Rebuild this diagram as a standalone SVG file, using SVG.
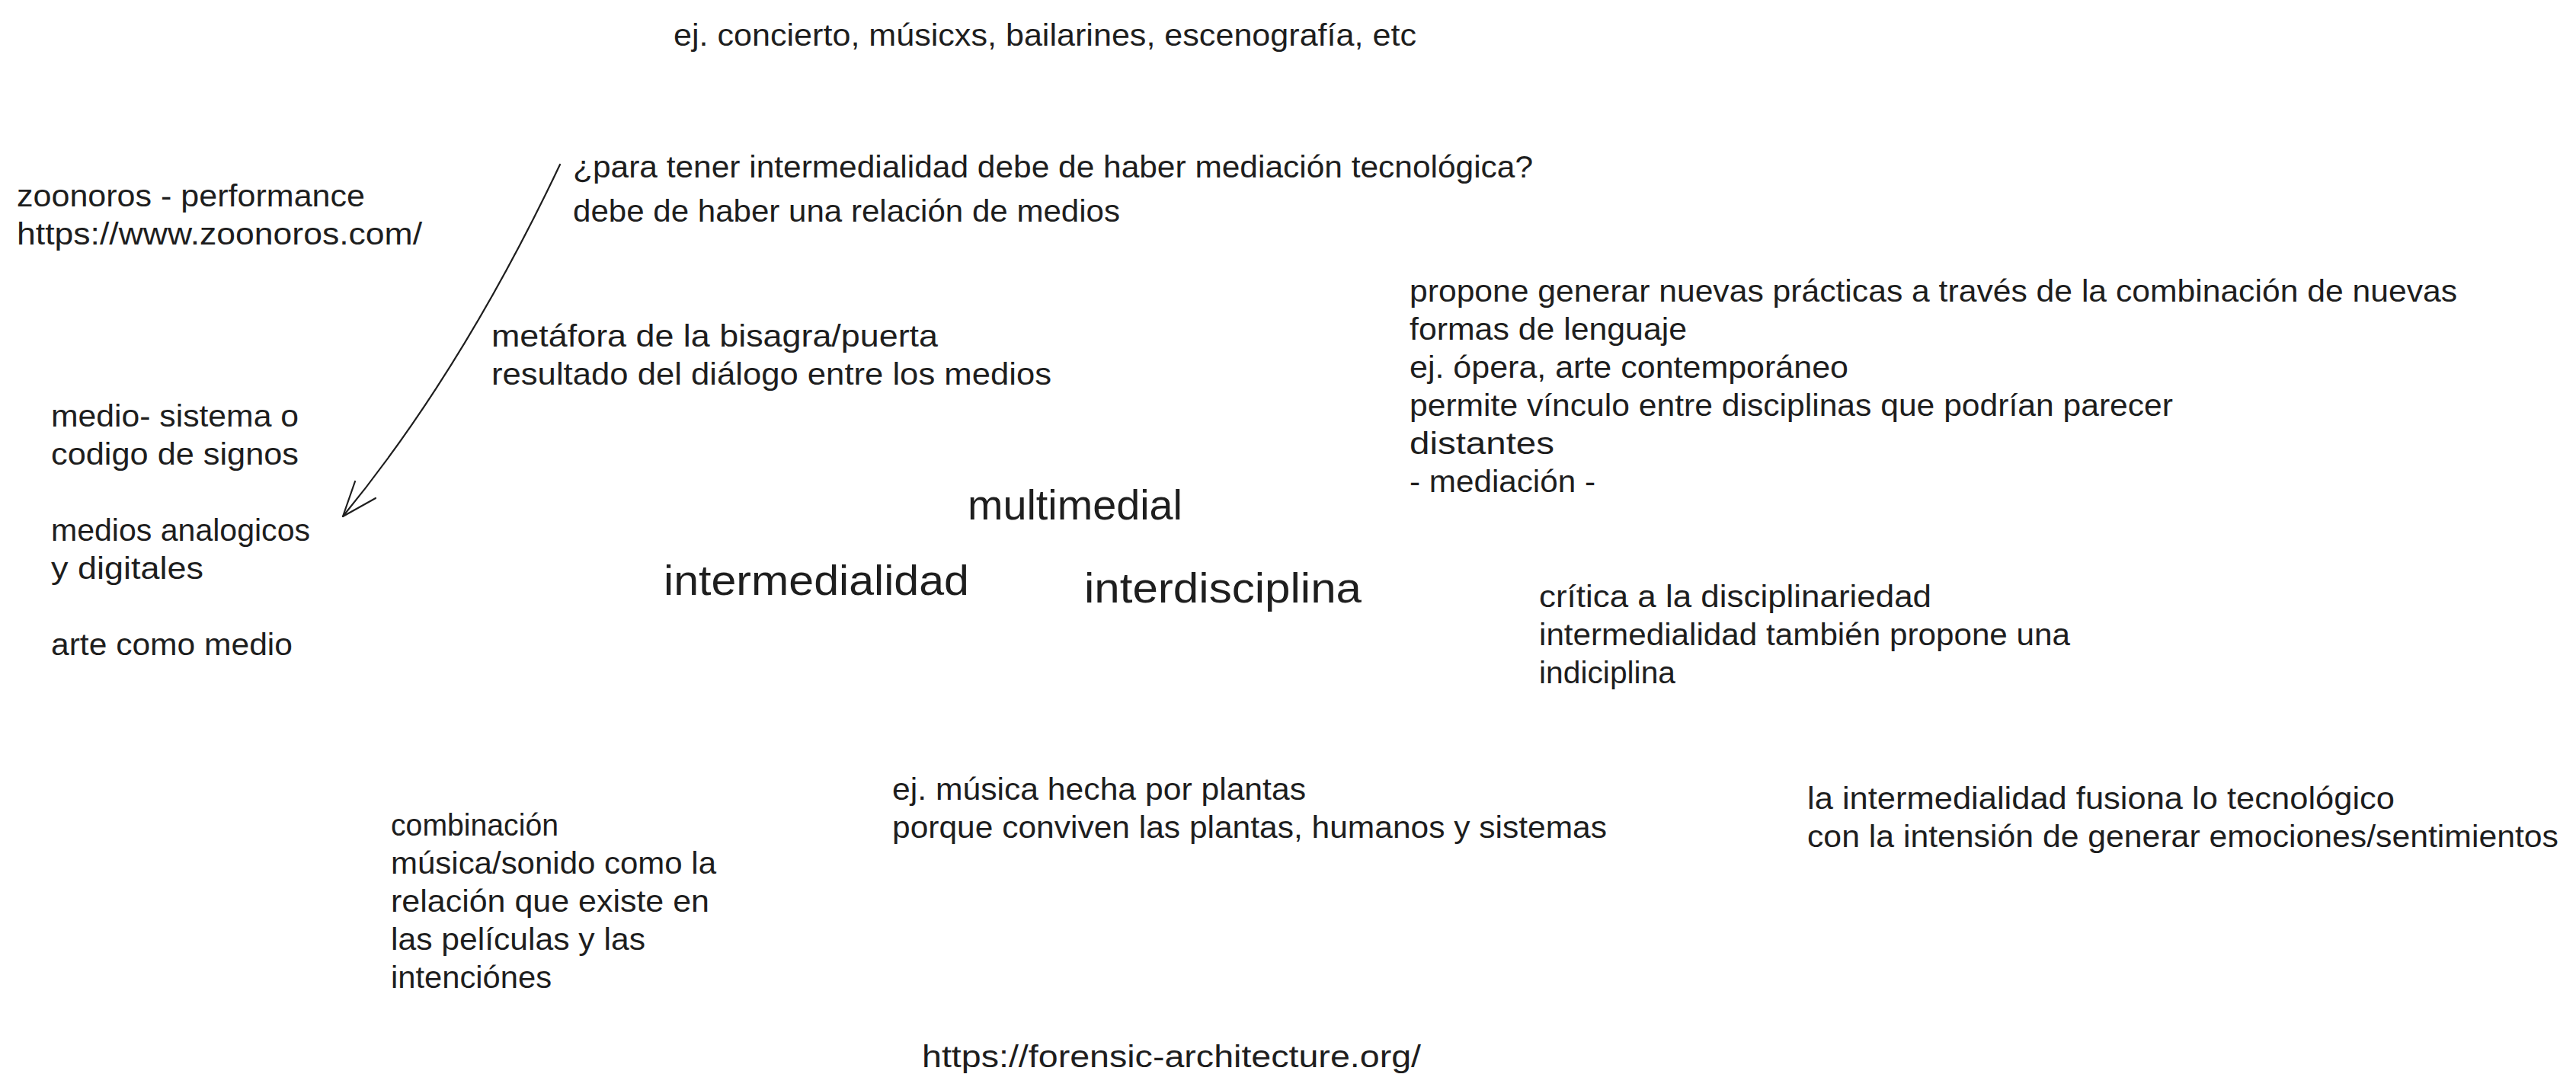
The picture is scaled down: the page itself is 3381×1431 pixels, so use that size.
<svg xmlns="http://www.w3.org/2000/svg" width="3381" height="1431" viewBox="0 0 3381 1431">
<style>
text{font-family:"Liberation Sans","Noto Sans",sans-serif;font-size:40px;fill:#1e1e1e}
text.big{font-size:56px}
.conn{fill:none;stroke:#1e1e1e;stroke-width:2.2;stroke-linecap:round;stroke-linejoin:round}
</style>
<rect width="3381" height="1431" fill="#ffffff"/>
<g id="conectores">
<path class="conn" d="M735,216 C664,366 573,528 450,678"/>
<path class="conn" d="M466,632 L450,678 L493,654"/>
</g>
<g id="ejemplo-concierto">
<text x="884" y="60" textLength="975" lengthAdjust="spacingAndGlyphs">ej. concierto, músicxs, bailarines, escenografía, etc</text>
</g>
<g id="zoonoros">
<text x="22" y="271" textLength="457" lengthAdjust="spacingAndGlyphs">zoonoros - performance</text>
<text x="22" y="321" textLength="532" lengthAdjust="spacingAndGlyphs">https://www.zoonoros.com/</text>
</g>
<g id="pregunta">
<text x="752" y="233" textLength="1260" lengthAdjust="spacingAndGlyphs">¿para tener intermedialidad debe de haber mediación tecnológica?</text>
</g>
<g id="relacion-medios">
<text x="752" y="291" textLength="718" lengthAdjust="spacingAndGlyphs">debe de haber una relación de medios</text>
</g>
<g id="metafora">
<text x="645" y="455" textLength="586" lengthAdjust="spacingAndGlyphs">metáfora de la bisagra/puerta</text>
<text x="645" y="505" textLength="735" lengthAdjust="spacingAndGlyphs">resultado del diálogo entre los medios</text>
</g>
<g id="medio">
<text x="67" y="560" textLength="325" lengthAdjust="spacingAndGlyphs">medio- sistema o</text>
<text x="67" y="610" textLength="325" lengthAdjust="spacingAndGlyphs">codigo de signos</text>
<text x="67" y="710" textLength="340" lengthAdjust="spacingAndGlyphs">medios analogicos</text>
<text x="67" y="760" textLength="200" lengthAdjust="spacingAndGlyphs">y digitales</text>
<text x="67" y="860" textLength="317" lengthAdjust="spacingAndGlyphs">arte como medio</text>
</g>
<g id="multimedial">
<text class="big" x="1270" y="682" textLength="282" lengthAdjust="spacingAndGlyphs">multimedial</text>
</g>
<g id="intermedialidad">
<text class="big" x="871" y="781" textLength="401" lengthAdjust="spacingAndGlyphs">intermedialidad</text>
</g>
<g id="interdisciplina">
<text class="big" x="1423" y="791" textLength="364" lengthAdjust="spacingAndGlyphs">interdisciplina</text>
</g>
<g id="propone">
<text x="1850" y="396" textLength="1375" lengthAdjust="spacingAndGlyphs">propone generar nuevas prácticas a través de la combinación de nuevas</text>
<text x="1850" y="446" textLength="364" lengthAdjust="spacingAndGlyphs">formas de lenguaje</text>
<text x="1850" y="496" textLength="576" lengthAdjust="spacingAndGlyphs">ej. ópera, arte contemporáneo</text>
<text x="1850" y="546" textLength="1002" lengthAdjust="spacingAndGlyphs">permite vínculo entre disciplinas que podrían parecer</text>
<text x="1850" y="596" textLength="190" lengthAdjust="spacingAndGlyphs">distantes</text>
<text x="1850" y="646" textLength="244" lengthAdjust="spacingAndGlyphs">- mediación -</text>
</g>
<g id="critica">
<text x="2020" y="797" textLength="515" lengthAdjust="spacingAndGlyphs">crítica a la disciplinariedad</text>
<text x="2020" y="847" textLength="697" lengthAdjust="spacingAndGlyphs">intermedialidad también propone una</text>
<text x="2020" y="897" textLength="179" lengthAdjust="spacingAndGlyphs">indiciplina</text>
</g>
<g id="plantas">
<text x="1171" y="1050" textLength="543" lengthAdjust="spacingAndGlyphs">ej. música hecha por plantas</text>
<text x="1171" y="1100" textLength="938" lengthAdjust="spacingAndGlyphs">porque conviven las plantas, humanos y sistemas</text>
</g>
<g id="combinacion">
<text x="513" y="1097" textLength="220" lengthAdjust="spacingAndGlyphs">combinación</text>
<text x="513" y="1147" textLength="427" lengthAdjust="spacingAndGlyphs">música/sonido como la</text>
<text x="513" y="1197" textLength="418" lengthAdjust="spacingAndGlyphs">relación que existe en</text>
<text x="513" y="1247" textLength="334" lengthAdjust="spacingAndGlyphs">las películas y las</text>
<text x="513" y="1297" textLength="211" lengthAdjust="spacingAndGlyphs">intenciónes</text>
</g>
<g id="fusiona">
<text x="2372" y="1062" textLength="771" lengthAdjust="spacingAndGlyphs">la intermedialidad fusiona lo tecnológico</text>
<text x="2372" y="1112" textLength="986" lengthAdjust="spacingAndGlyphs">con la intensión de generar emociones/sentimientos</text>
</g>
<g id="forensic">
<text x="1210" y="1401" textLength="655" lengthAdjust="spacingAndGlyphs">https://forensic-architecture.org/</text>
</g>
</svg>
